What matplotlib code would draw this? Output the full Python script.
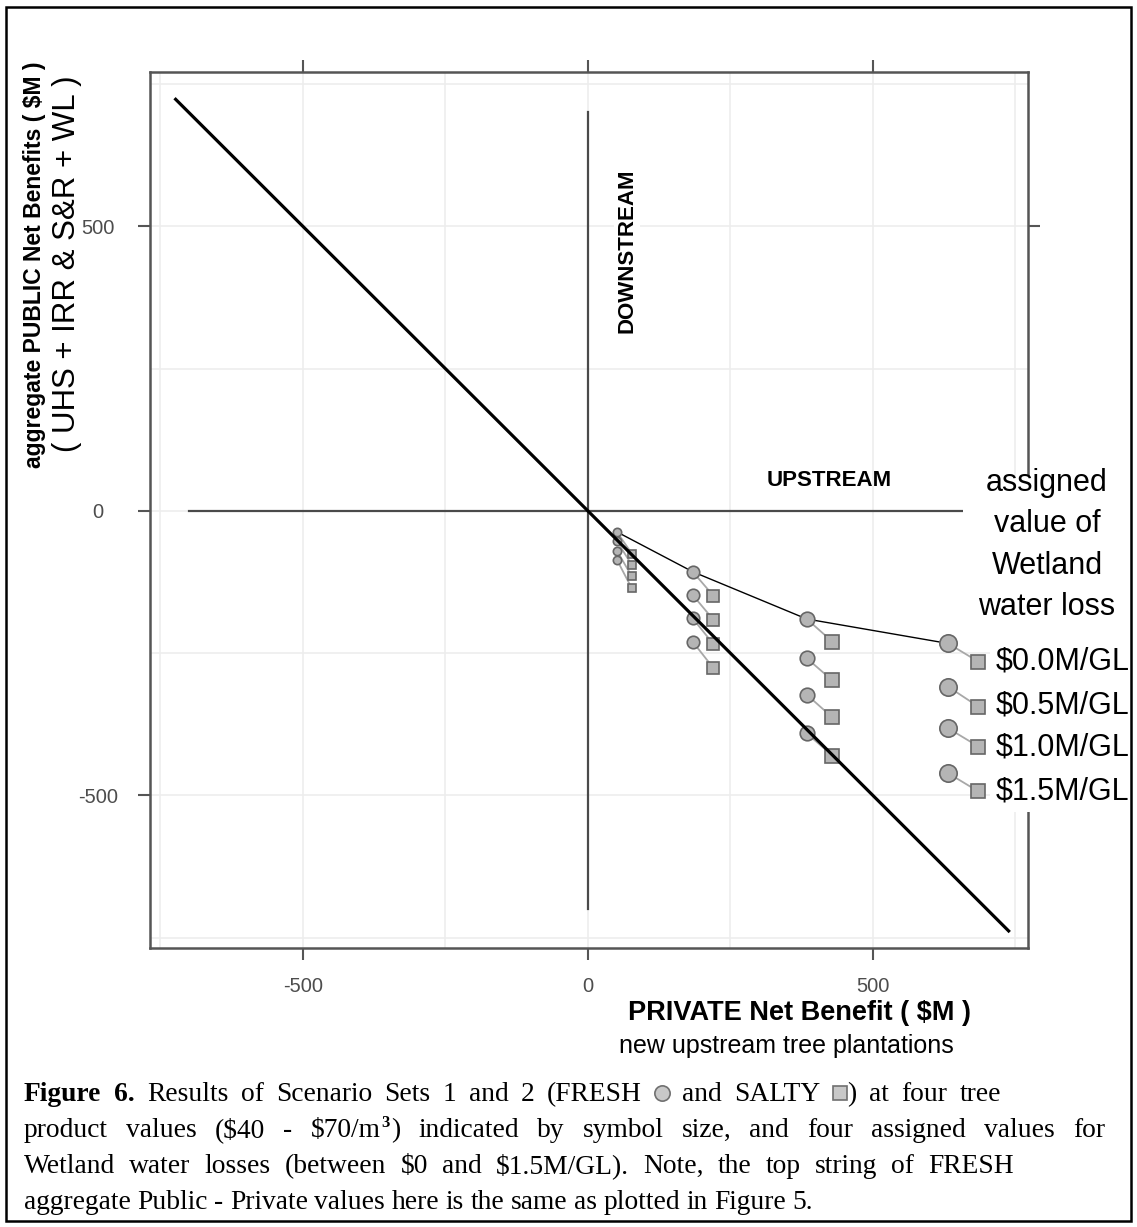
import matplotlib
matplotlib.use("Agg")
import matplotlib.pyplot as plt
from matplotlib.lines import Line2D
from matplotlib.patches import Rectangle

W, H = 1137, 1227
plt.rcParams['font.family'] = ['Liberation Sans', 'DejaVu Sans']
plt.rcParams['axes.unicode_minus'] = False

# ---- data ($M) ----
TICKS = [-500, 0, 500]
GRID = [-750, -250, 250, 750]
DIAG_X = [-725, 740]           # 1:1 break-even line (public = -private)
DIAG_Y = [725, -740]
AXIS_SPAN = 700                # extent of the drawn zero lines

# FRESH (circles) and SALTY (squares), 4 tree product values ($40..$70/m3)
FRESH_X = [51, 184, 384, 632]
SALTY_X = [77, 220, 429, 685]
# rows: tree value, cols: wetland value $0.0, 0.5, 1.0, 1.5 M/GL
FRESH_Y = [[-37, -53, -70, -86],
           [-107, -148, -189, -230],
           [-190, -259, -323, -391],
           [-233, -309, -382, -461]]
SALTY_Y = [[-75, -95, -115, -136],
           [-149, -191, -234, -276],
           [-230, -298, -363, -430],
           [-265, -344, -414, -493]]
WETLAND = [r"\$0.0M/GL", r"\$0.5M/GL", r"\$1.0M/GL", r"\$1.5M/GL"]

# symbol sizes grow with tree product value
CIRC_MS = [6, 9, 10.5, 12.5]
SQ_MS = [5.5, 8.5, 10, 10]

def fx(px): return px / W
def fy(py): return 1 - py / H

fig = plt.figure(figsize=(W / 100, H / 100), dpi=100)
ax = fig.add_axes([fx(150), fy(948), (1028 - 150) / W, (948 - 72) / H])
ax.set_xlim(-768, 772)
ax.set_ylim(-768, 771)

for s in ax.spines.values():
    s.set_color('#555555'); s.set_linewidth(1.8)
ax.set_xticks(TICKS); ax.set_yticks(TICKS)
ax.set_xticks(GRID, minor=True); ax.set_yticks(GRID, minor=True)
ax.tick_params(which='major', direction='out', length=8.6, width=1.5, color='#555555',
               top=True, right=True, labelsize=14.5, labelcolor='#4d4d4d')
ax.tick_params(which='minor', length=0)
ax.tick_params(axis='x', pad=12)
ax.tick_params(axis='y', pad=29)
for lbl in ax.get_yticklabels():
    lbl.set_horizontalalignment('center')
ax.grid(True, which='both', color='#ededed', linewidth=1.2, zorder=0)
ax.set_axisbelow(True)

# zero lines
ax.plot([0, 0], [-AXIS_SPAN, AXIS_SPAN], color='#4a4a4a', lw=1.6, zorder=2)
ax.plot([-AXIS_SPAN, AXIS_SPAN], [0, 0], color='#4a4a4a', lw=1.6, zorder=2)

# connectors + symbols
for i in range(4):
    for j in range(4):
        ax.plot([FRESH_X[i], SALTY_X[i]], [FRESH_Y[i][j], SALTY_Y[i][j]],
                color='#a8a8a8', lw=1.3, zorder=3)
    ax.plot([FRESH_X[i]] * 4, FRESH_Y[i], 'o', ms=CIRC_MS[i], mfc='#b5b5b5',
            mec='#666666', mew=1.2, zorder=5)
    ax.plot([SALTY_X[i]] * 4, SALTY_Y[i], 's', ms=SQ_MS[i], mfc='#b5b5b5',
            mec='#666666', mew=1.2, zorder=5)

# top string of FRESH values
ax.plot(FRESH_X, [r[0] for r in FRESH_Y], color='black', lw=1.0, zorder=4)
ax.plot(DIAG_X, DIAG_Y, color='black', lw=2.3, zorder=6, solid_capstyle='butt')

# in-plot labels
fig.text(fx(627), fy(251), 'DOWNSTREAM', rotation=90, ha='center', va='center',
         fontsize=16, fontweight='bold',
         bbox=dict(fc='white', ec='none', pad=2))
fig.text(fx(829), fy(481), 'UPSTREAM', ha='center', va='center',
         fontsize=16, fontweight='bold')

# white panel for the wetland legend (covers the frame like the original)
fig.add_artist(Rectangle((fx(963), fy(640)), (1128 - 963) / W, (640 - 476) / H,
                         transform=fig.transFigure, fc='white', ec='none', zorder=2))
fig.add_artist(Rectangle((fx(990), fy(812)), (1128 - 990) / W, (812 - 640) / H,
                         transform=fig.transFigure, fc='white', ec='none', zorder=2))
fig.text(fx(1047), fy(545), 'assigned\nvalue of\nWetland\nwater loss', ha='center',
         va='center', fontsize=22, linespacing=1.5, zorder=3)
for k, lab in enumerate(WETLAND):
    fig.text(fx(996), fy([662, 705, 747, 791][k]), lab, ha='left', va='center',
             fontsize=22, zorder=3)

# axis titles
fig.text(fx(35), fy(265), r'aggregate PUBLIC Net Benefits ( \$M )', rotation=90,
         ha='center', va='center', fontsize=16.5, fontweight='bold')
fig.text(fx(67), fy(264), '( UHS + IRR & S&R + WL )', rotation=90,
         ha='center', va='center', fontsize=22.5)
fig.text(fx(799), fy(1013), r'PRIVATE Net Benefit ( \$M )', ha='center', va='center',
         fontsize=19.5, fontweight='bold')
fig.text(fx(786), fy(1046), 'new upstream tree plantations', ha='center', va='center',
         fontsize=18)

# outer frame
fig.add_artist(Rectangle((fx(6), fy(1221)), (1131 - 6) / W, (1221 - 7) / H,
                         transform=fig.transFigure, fill=False, ec='black', lw=1.8))

# ---- caption, laid out word by word ----
renderer = fig.canvas.get_renderer()
SERIF = ['Liberation Serif', 'DejaVu Serif']
CAP = 19.8

def word(s, **kw):
    size = kw.pop('size', CAP)
    rise = kw.pop('rise', 0)
    t = fig.text(0, 0, s, ha='left', va='baseline', family=SERIF, fontsize=size, **kw)
    w = t.get_window_extent(renderer).width
    return dict(kind='text', art=t, w=w, rise=rise)

def sym(marker, ms):
    a = Line2D([0], [0], transform=fig.transFigure, marker=marker, ms=ms,
               mfc='#c8c8c8', mec='#707070', mew=1.2, ls='none')
    fig.add_artist(a)
    return dict(kind='sym', art=a, w=ms * 1.39, rise=8)

def lay(y, groups, x0=24, x1=None, space=5.5):
    # groups: list of token lists; tokens inside a group touch, groups get glue
    widths = [sum(t['w'] + 1 for t in g) for g in groups]
    gap = space if x1 is None else (x1 - x0 - sum(widths)) / (len(groups) - 1)
    x = x0
    for g in groups:
        for t in g:
            if t['kind'] == 'text':
                t['art'].set_position((fx(x), fy(y - t['rise'])))
            else:
                t['art'].set_data([fx(x + t['w'] / 2)], [fy(y - t['rise'])])
            x += t['w'] + 1
        x += gap

def words(s):
    return [[word(w)] for w in s.split()]

line1 = ([[word('Figure', fontweight='bold')], [word('6.', fontweight='bold')]] +
         words('Results of Scenario Sets 1 and 2 (FRESH') +
         [[sym('o', 11)]] + words('and SALTY') +
         [[sym('s', 10), word(')')]] + words('at four tree'))
lay(1101, line1, x1=1002)

line2 = (words(r'product values (\$40 -') +
         [[word(r'\$70/m'), word('3', size=12, fontweight='bold', rise=10), word(')')]] +
         words('indicated by symbol size, and four assigned values for'))
lay(1137, line2, x1=1106)

line3 = words(r'Wetland water losses (between \$0 and \$1.5M/GL).  Note, the top string of FRESH')
lay(1173, line3, x1=1015)

line4 = words('aggregate Public - Private values here is the same as plotted in Figure 5.')
lay(1209, line4)

fig.savefig('out.png', dpi=100)
